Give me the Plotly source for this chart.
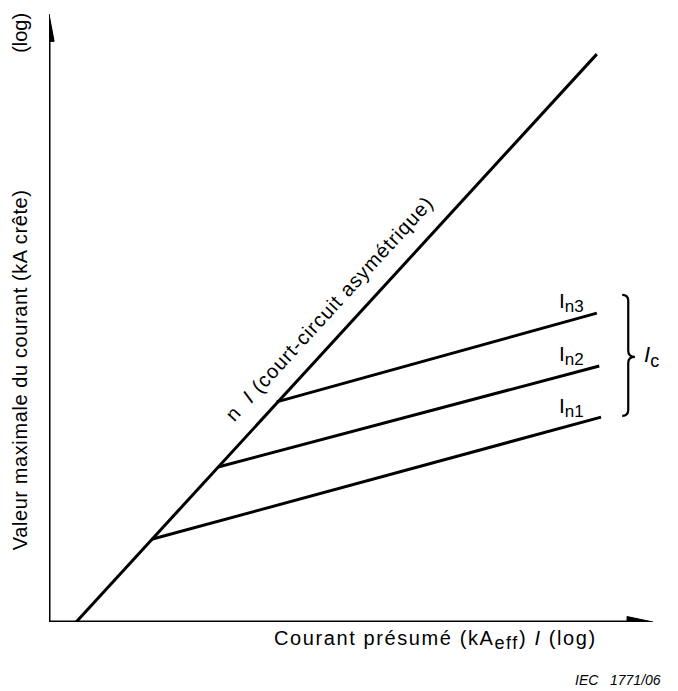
import plotly.graph_objects as go

# schematic units (log scale, arbitrary)
diag_x = [0.45, 9.07]
diag_y = [0.0, 9.34]

branch_names = ['n1', 'n2', 'n3']
branch_x0 = [1.70, 2.80, 3.77]
branch_y0 = [1.36, 2.55, 3.62]
branch_x1 = [9.14, 9.11, 9.07]
branch_y1 = [3.37, 4.21, 5.08]
label_y = [3.52, 4.39, 5.25]

FONT = 'Liberation Sans, Arial, sans-serif'
LW = 3


def sub(s, size=17):
    return f'<sub><span style="font-size:{size}px">{s}</span></sub>'


fig = go.Figure()
fig.add_trace(go.Scatter(x=diag_x, y=diag_y, mode='lines',
                         line=dict(color='black', width=LW), hoverinfo='skip'))
for i in range(3):
    fig.add_trace(go.Scatter(x=[branch_x0[i], branch_x1[i]], y=[branch_y0[i], branch_y1[i]],
                             mode='lines', line=dict(color='black', width=LW), hoverinfo='skip'))
    fig.add_annotation(x=8.65, y=label_y[i], text='I' + sub(branch_names[i]), showarrow=False,
                       font=dict(size=21, color='black', family=FONT))

# axes with arrow heads
fig.add_shape(type='line', x0=0, y0=0, x1=0, y1=9.6, line=dict(color='black', width=LW))
fig.add_shape(type='line', x0=0, y0=0, x1=9.6, y1=0, line=dict(color='black', width=LW))
fig.add_shape(type='path', path='M 0,10 L -0.085,9.55 L 0.085,9.55 Z',
              fillcolor='black', line=dict(color='black', width=1))
fig.add_shape(type='path', path='M 10,0 L 9.57,0.09 L 9.57,-0.09 Z',
              fillcolor='black', line=dict(color='black', width=1))

# brace for I_c
fig.add_shape(type='path',
              path='M 9.49,5.38 Q 9.59,5.38 9.59,5.28 L 9.59,4.46 Q 9.59,4.36 9.70,4.36 '
                   'Q 9.59,4.36 9.59,4.26 L 9.59,3.49 Q 9.59,3.39 9.49,3.39',
              line=dict(color='black', width=2.2))
fig.add_annotation(x=9.98, y=4.36, text='<i>I</i>' + sub('c', 18), showarrow=False,
                   font=dict(size=22, color='black', family=FONT))

fig.add_annotation(x=4.65, y=5.16,
                   text='<span style="letter-spacing:1px">n  <i>I</i> (court-circuit asymétrique)</span>',
                   textangle=-47.5, showarrow=False,
                   font=dict(size=20, color='black', family=FONT))

fig.add_annotation(xref='paper', yref='paper', x=-0.048, y=0.414,
                   xanchor='center', yanchor='middle',
                   text='<span style="letter-spacing:0.6px">Valeur maximale du courant (kA crête)</span>',
                   textangle=-90, showarrow=False,
                   font=dict(size=20, color='black', family=FONT))
fig.add_annotation(xref='paper', yref='paper', x=-0.048, y=0.969, text='(log)',
                   xanchor='center', yanchor='middle', textangle=-90, showarrow=False,
                   font=dict(size=20, color='black', family=FONT))
fig.add_annotation(xref='paper', yref='paper', x=0.369, y=-0.030,
                   xanchor='left', yanchor='middle',
                   text='<span style="letter-spacing:1.6px">Courant présumé (kA'
                        + sub('eff', 18) + ') <i>I</i> (log)</span>',
                   showarrow=False, font=dict(size=20, color='black', family=FONT))
fig.add_annotation(xref='paper', yref='paper', x=1.017, y=-0.095,
                   xanchor='right', yanchor='middle',
                   text='<i>IEC   1771/06</i>', showarrow=False,
                   font=dict(size=14, color='black', family=FONT))

fig.update_xaxes(range=[0, 10], visible=False)
fig.update_yaxes(range=[0, 10], visible=False)
# the page body adds an 8 px offset, so margins are shifted to compensate
fig.update_layout(width=678, height=691, showlegend=False,
                  margin=dict(l=41, r=33, t=6, b=77),
                  plot_bgcolor='white', paper_bgcolor='white')

fig.write_html('out.html')
